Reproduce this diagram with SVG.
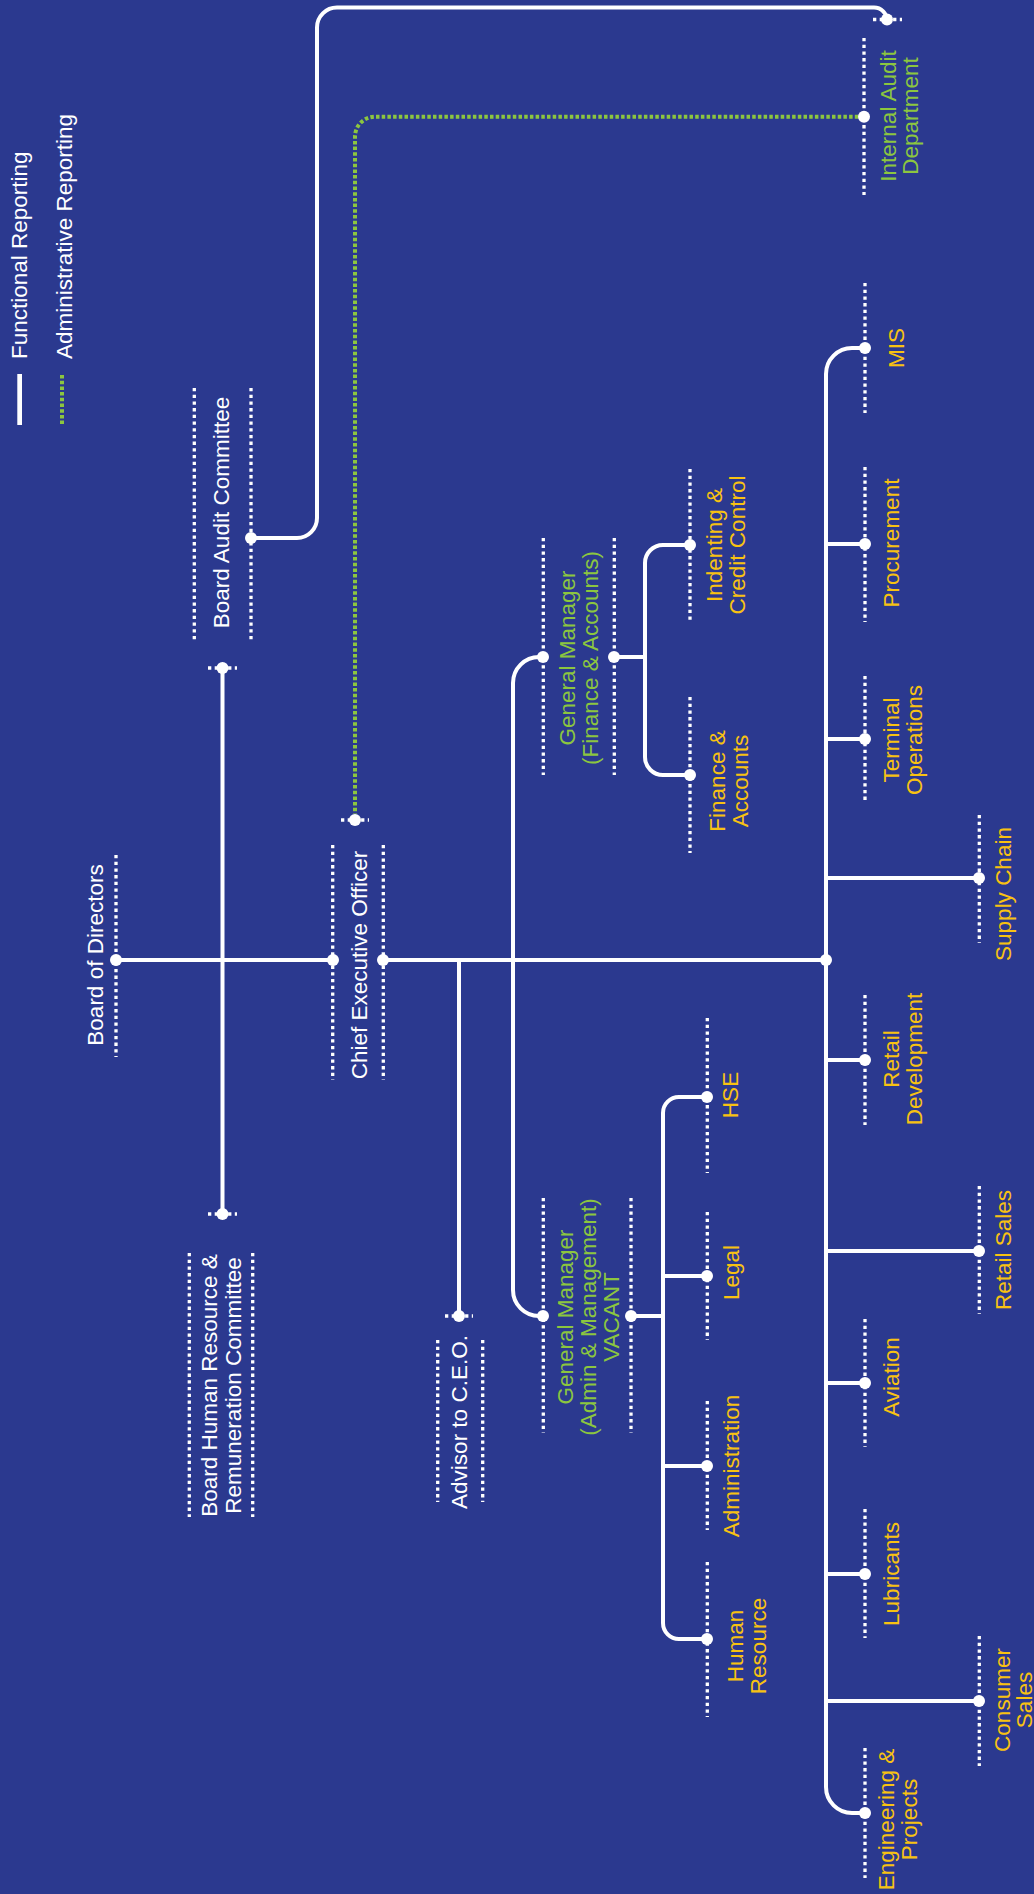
<svg xmlns="http://www.w3.org/2000/svg" width="1034" height="1894" viewBox="0 0 1034 1894">
<defs>
<style>
.bg{fill:#2b398f}
.ln{fill:none;stroke:#fff;stroke-width:4}
.dl{fill:none;stroke:#fff;stroke-width:3.3;stroke-dasharray:3.3 3.4}
.gl{fill:none;stroke:#8cc63f;stroke-width:4;stroke-dasharray:3.5 2.2}
.dot{fill:#fff}
text{font-family:"Liberation Sans",Arial,sans-serif;font-size:22.5px;text-anchor:middle}
.w{fill:#fff}
.y{fill:#f8c212}
.g{fill:#8cc63f}
</style>
</defs>
<rect class="bg" x="0" y="0" width="1034" height="1894"/>

<g id="legend">
<rect x="17.3" y="374" width="4.7" height="51" fill="#fff"/>
<line class="gl" x1="62" y1="375" x2="62" y2="425"/>
<text class="w" transform="translate(26.5,359) rotate(-90)" style="text-anchor:start">Functional Reporting</text>
<text class="w" transform="translate(71.5,359) rotate(-90)" style="text-anchor:start">Administrative Reporting</text>
</g>

<g id="connectors">
<path class="ln" d="M116 960 H333"/>
<path class="ln" d="M383 960 H826"/>
<path class="ln" d="M222.5 668 V1214"/>
<path class="ln" d="M459 960 V1316"/>
<path class="ln" d="M251 538 H297 A20 20 0 0 0 317 518 V27.5 A20 20 0 0 1 337 7.5 H874 A13 13 0 0 1 887 20.5"/>
<path class="gl" d="M864 116.7 H375 A20 20 0 0 0 355 136.7 V814"/>
<path class="ln" d="M543 657 H539 A26 26 0 0 0 513 683 V1290 A26 26 0 0 0 539 1316 H543"/>
<path class="ln" d="M614 657 H645"/>
<path class="ln" d="M690 545 H663 A18 18 0 0 0 645 563 V757 A18 18 0 0 0 663 775 H690"/>
<path class="ln" d="M631 1316 H663"/>
<path class="ln" d="M707 1097 H679 A16 16 0 0 0 663 1113 V1623 A16 16 0 0 0 679 1639 H707"/>
<path class="ln" d="M663 1276 H707 M663 1466 H707"/>
<path class="ln" d="M865 348 H852 A26 26 0 0 0 826 374 V1787 A26 26 0 0 0 852 1813 H865"/>
<path class="ln" d="M826 544 H865 M826 739 H865 M826 878 H979 M826 1060 H865 M826 1251 H979 M826 1383 H865 M826 1574 H865 M826 1701 H979"/>
<path class="dl" d="M208 668 H237 M208 1214 H237 M445 1316 H473 M341 820 H369 M873 19.5 H902"/>
<circle class="dot" cx="222.5" cy="668" r="6"/>
<circle class="dot" cx="222.5" cy="1214" r="6"/>
<circle class="dot" cx="459" cy="1316" r="6"/>
<circle class="dot" cx="355" cy="820" r="6"/>
<circle class="dot" cx="887" cy="19.5" r="6"/>
<circle class="dot" cx="826" cy="960" r="6"/>
</g>

<g id="board-of-directors">
<line class="dl" x1="116" y1="855" x2="116" y2="1057"/>
<circle class="dot" cx="116" cy="960" r="6"/>
<text class="w" transform="translate(102.7,955) rotate(-90)">Board of Directors</text>
</g>

<g id="board-audit-committee">
<line class="dl" x1="194.3" y1="388" x2="194.3" y2="642"/>
<line class="dl" x1="251" y1="388" x2="251" y2="642"/>
<circle class="dot" cx="251" cy="538" r="6"/>
<text class="w" transform="translate(229,512.5) rotate(-90)">Board Audit Committee</text>
</g>

<g id="board-hr-committee">
<line class="dl" x1="189.3" y1="1253" x2="189.3" y2="1517"/>
<line class="dl" x1="252.7" y1="1253" x2="252.7" y2="1517"/>
<text class="w" transform="translate(217.3,1385.5) rotate(-90)"><tspan x="0" y="0">Board Human Resource &amp;</tspan><tspan x="0" y="23.4">Remuneration Committee</tspan></text>
</g>

<g id="ceo">
<line class="dl" x1="332.7" y1="845" x2="332.7" y2="1080"/>
<line class="dl" x1="383.3" y1="845" x2="383.3" y2="1080"/>
<circle class="dot" cx="333" cy="960" r="6"/>
<circle class="dot" cx="383" cy="960" r="6"/>
<text class="w" transform="translate(366.7,965) rotate(-90)">Chief Executive Officer</text>
</g>

<g id="advisor">
<line class="dl" x1="437.7" y1="1340" x2="437.7" y2="1502"/>
<line class="dl" x1="482.7" y1="1340" x2="482.7" y2="1502"/>
<text class="w" transform="translate(467.3,1422) rotate(-90)">Advisor to C.E.O.</text>
</g>

<g id="gm-finance">
<line class="dl" x1="543.3" y1="538" x2="543.3" y2="775"/>
<line class="dl" x1="614.3" y1="538" x2="614.3" y2="775"/>
<circle class="dot" cx="543" cy="657" r="6"/>
<circle class="dot" cx="614" cy="657" r="6"/>
<text class="g" transform="translate(575,658) rotate(-90)"><tspan x="0" y="0">General Manager</tspan><tspan x="0" y="22.5">(Finance &amp; Accounts)</tspan></text>
</g>

<g id="gm-admin">
<line class="dl" x1="543.3" y1="1198" x2="543.3" y2="1433"/>
<line class="dl" x1="631" y1="1198" x2="631" y2="1433"/>
<circle class="dot" cx="543" cy="1316" r="6"/>
<circle class="dot" cx="631" cy="1316" r="6"/>
<text class="g" transform="translate(573,1317) rotate(-90)"><tspan x="0" y="0">General Manager</tspan><tspan x="0" y="23">(Admin &amp; Management)</tspan><tspan x="0" y="46">VACANT</tspan></text>
</g>

<g id="indenting">
<line class="dl" x1="690" y1="469" x2="690" y2="623"/>
<circle class="dot" cx="690" cy="545" r="6"/>
<text class="y" transform="translate(722,545) rotate(-90)"><tspan x="0" y="0">Indenting &amp;</tspan><tspan x="0" y="23">Credit Control</tspan></text>
</g>

<g id="finance-accounts">
<line class="dl" x1="690" y1="697" x2="690" y2="853"/>
<circle class="dot" cx="690" cy="775" r="6"/>
<text class="y" transform="translate(725,781) rotate(-90)"><tspan x="0" y="0">Finance &amp;</tspan><tspan x="0" y="23">Accounts</tspan></text>
</g>

<g id="hse">
<line class="dl" x1="707.3" y1="1018" x2="707.3" y2="1173"/>
<circle class="dot" cx="707" cy="1097" r="6"/>
<text class="y" transform="translate(738,1095) rotate(-90)">HSE</text>
</g>

<g id="legal">
<line class="dl" x1="707.3" y1="1212" x2="707.3" y2="1340"/>
<circle class="dot" cx="707" cy="1276" r="6"/>
<text class="y" transform="translate(739,1272.5) rotate(-90)">Legal</text>
</g>

<g id="administration">
<line class="dl" x1="707.3" y1="1401" x2="707.3" y2="1530"/>
<circle class="dot" cx="707" cy="1466" r="6"/>
<text class="y" transform="translate(739,1466) rotate(-90)">Administration</text>
</g>

<g id="human-resource">
<line class="dl" x1="707.3" y1="1562" x2="707.3" y2="1717"/>
<circle class="dot" cx="707" cy="1639" r="6"/>
<text class="y" transform="translate(742.7,1646) rotate(-90)"><tspan x="0" y="0">Human</tspan><tspan x="0" y="23.3">Resource</tspan></text>
</g>

<g id="internal-audit">
<line class="dl" x1="864" y1="38" x2="864" y2="195"/>
<circle class="dot" cx="864" cy="116.7" r="6"/>
<text class="g" transform="translate(896,116) rotate(-90)"><tspan x="0" y="0">Internal Audit</tspan><tspan x="0" y="22">Department</tspan></text>
</g>

<g id="mis">
<line class="dl" x1="865" y1="283" x2="865" y2="413"/>
<circle class="dot" cx="865" cy="348" r="6"/>
<text class="y" transform="translate(904,348) rotate(-90)">MIS</text>
</g>

<g id="procurement">
<line class="dl" x1="865" y1="467" x2="865" y2="622"/>
<circle class="dot" cx="865" cy="544" r="6"/>
<text class="y" transform="translate(899,543) rotate(-90)">Procurement</text>
</g>

<g id="terminal-operations">
<line class="dl" x1="865" y1="676" x2="865" y2="803"/>
<circle class="dot" cx="865" cy="739" r="6"/>
<text class="y" transform="translate(899,740) rotate(-90)"><tspan x="0" y="0">Terminal</tspan><tspan x="0" y="23">Operations</tspan></text>
</g>

<g id="supply-chain">
<line class="dl" x1="979.3" y1="815" x2="979.3" y2="943"/>
<circle class="dot" cx="979" cy="878" r="6"/>
<text class="y" transform="translate(1010.7,894) rotate(-90)">Supply Chain</text>
</g>

<g id="retail-development">
<line class="dl" x1="865" y1="995" x2="865" y2="1125"/>
<circle class="dot" cx="865" cy="1060" r="6"/>
<text class="y" transform="translate(899,1059) rotate(-90)"><tspan x="0" y="0">Retail</tspan><tspan x="0" y="23">Development</tspan></text>
</g>

<g id="retail-sales">
<line class="dl" x1="979.3" y1="1186" x2="979.3" y2="1314"/>
<circle class="dot" cx="979" cy="1251" r="6"/>
<text class="y" transform="translate(1010.7,1250) rotate(-90)">Retail Sales</text>
</g>

<g id="aviation">
<line class="dl" x1="865" y1="1319" x2="865" y2="1447"/>
<circle class="dot" cx="865" cy="1383" r="6"/>
<text class="y" transform="translate(899,1377) rotate(-90)">Aviation</text>
</g>

<g id="lubricants">
<line class="dl" x1="865" y1="1509" x2="865" y2="1638"/>
<circle class="dot" cx="865" cy="1574" r="6"/>
<text class="y" transform="translate(899,1574) rotate(-90)">Lubricants</text>
</g>

<g id="consumer-sales">
<line class="dl" x1="979.3" y1="1636" x2="979.3" y2="1766"/>
<circle class="dot" cx="979" cy="1701" r="6"/>
<text class="y" transform="translate(1010,1700) rotate(-90)"><tspan x="0" y="0">Consumer</tspan><tspan x="0" y="22">Sales</tspan></text>
</g>

<g id="engineering-projects">
<line class="dl" x1="865" y1="1748" x2="865" y2="1878"/>
<circle class="dot" cx="865" cy="1813" r="6"/>
<text class="y" transform="translate(894,1819.5) rotate(-90)"><tspan x="0" y="0">Engineering &amp;</tspan><tspan x="0" y="23">Projects</tspan></text>
</g>
</svg>
